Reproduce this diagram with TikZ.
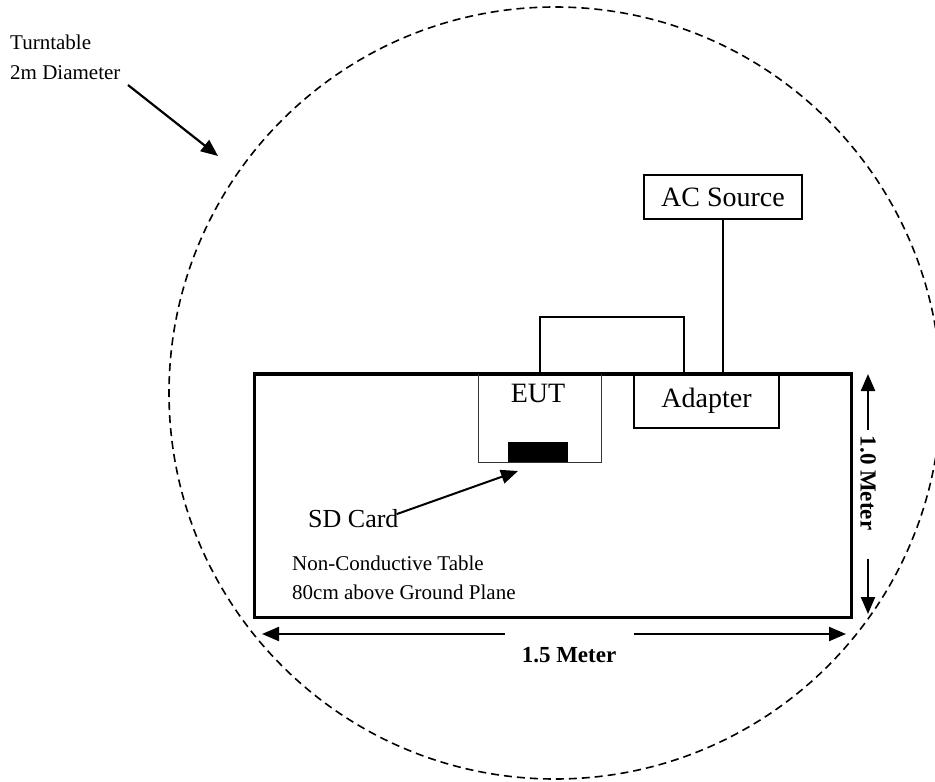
\documentclass[tikz,border=0pt]{standalone}
\usepackage{fontspec}
\setmainfont{Liberation Serif}
\usetikzlibrary{arrows.meta}
\tikzset{
  smalltext/.style={inner sep=0pt, font=\fontsize{21}{25}\selectfont},
  bigtext/.style={inner sep=0pt, font=\fontsize{28}{32}\selectfont},
  dimtext/.style={inner sep=0pt, font=\fontsize{23}{27}\selectfont\bfseries},
  devbox/.style={draw, line width=1.6pt, inner sep=0pt},
  cable/.style={line width=1.6pt},
  pointer/.style={line width=2.2pt, -{Triangle[length=17pt,width=14pt]}},
  dimarrow/.style={line width=2.2pt, -{Triangle[length=17pt,width=14pt]}},
}
\begin{document}
\begin{tikzpicture}[x=1pt,y=-1pt]
\useasboundingbox (0,0) rectangle (935,782);
% turntable
\draw[line width=1.6pt, dash pattern=on 8pt off 5pt] (555,393) circle[radius=386pt];
% table
\node[draw, line width=2.8pt, minimum width=597pt, minimum height=243pt, inner sep=0pt, anchor=north west] (table) at (253,373) {};
% EUT
\node[draw=black!80, line width=1pt, minimum width=123pt, minimum height=89pt, inner sep=0pt, anchor=north west] (eut) at (478,373) {};
\node[bigtext, anchor=base] (euttext) at (538,402) {EUT};
\node[fill=black, minimum width=60pt, minimum height=20pt, inner sep=0pt, anchor=south west] (sd) at (508,462) {};
% redraw table top over EUT box
\draw[line width=2.8pt] (table.north west) -- (table.north east);
% adapter
\node[devbox, minimum width=145pt, minimum height=55pt, bigtext] (adapter) at (706.5,400.5) {Adapter};
% AC source
\node[devbox, minimum width=158pt, minimum height=44pt, bigtext] (ac) at (723,197) {AC Source};
% cables
\coordinate (bendR) at (684,317);
\draw[cable] (eut.north) |- (bendR) -- (bendR |- table.north);
\draw[cable] (ac.south) -- (ac.south |- table.north);
% turntable label
\node[smalltext, anchor=base west] (tt1) at (10,49) {Turntable};
\node[smalltext, anchor=base west] (tt2) at (10,79) {2m Diameter};
\coordinate (tta) at (128,85);
\coordinate (ttb) at (218,156);
\draw[pointer] (tta) -- (ttb);
% SD card label
\node[inner sep=0pt, font=\fontsize{26}{30}\selectfont, anchor=base west] (sdtext) at (308,527) {SD Card};
\coordinate (sdtip) at (518,471);
\draw[pointer, line width=2pt] (sdtext.east) ++(-2,-4) -- (sdtip);
% table label
\node[smalltext, anchor=base west] (nc1) at (292,570) {Non-Conductive Table};
\node[smalltext, anchor=base west] (nc2) at (292,599) {80cm above Ground Plane};
% horizontal dimension
\node[dimtext] (hlabel) at (569,655) {1.5 Meter};
\coordinate (hl1) at (505,634);
\coordinate (hl2) at (262,634);
\coordinate (hr1) at (634,634);
\coordinate (hr2) at (846,634);
\draw[dimarrow] (hl1) -- (hl2);
\draw[dimarrow] (hr1) -- (hr2);
% vertical dimension
\node[dimtext, rotate=-90] (vlabel) at (868,483) {1.0 Meter};
\coordinate (vt1) at (868,430);
\coordinate (vt2) at (868,374);
\coordinate (vb1) at (868,559);
\coordinate (vb2) at (868,614);
\draw[dimarrow] (vt1) -- (vt2);
\draw[dimarrow] (vb1) -- (vb2);
\end{tikzpicture}
\end{document}
